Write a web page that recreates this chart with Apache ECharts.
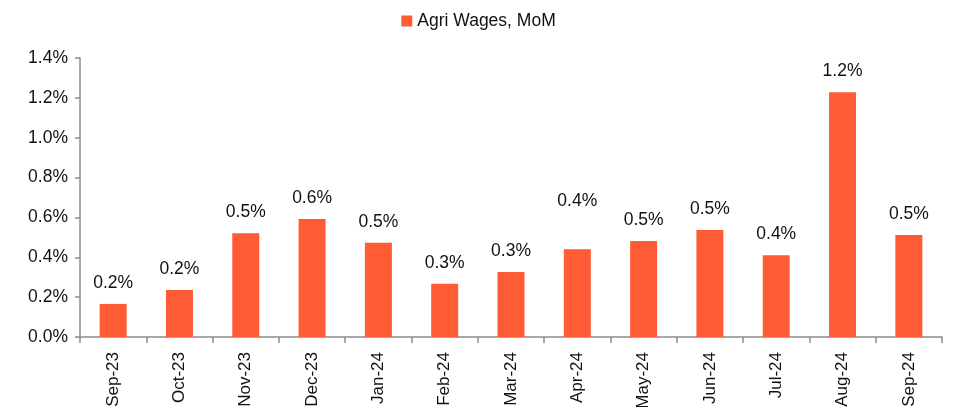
<!DOCTYPE html>
<html>
<head>
<meta charset="utf-8">
<script src="https://cdn.jsdelivr.net/npm/echarts@6/dist/echarts.min.js"></script>
<style>
  html, body { margin: 0; padding: 0; background: #fff; }
  #chart { width: 957px; height: 407px; }
</style>
</head>
<body>
<div id="chart"></div>
<script>
const months = ['Sep-23', 'Oct-23', 'Nov-23', 'Dec-23', 'Jan-24', 'Feb-24', 'Mar-24', 'Apr-24', 'May-24', 'Jun-24', 'Jul-24', 'Aug-24', 'Sep-24']
const agriWagesMoM = [0.166, 0.236, 0.520, 0.592, 0.473, 0.267, 0.326, 0.440, 0.482, 0.537, 0.410, 1.228, 0.512]
const seriesName = 'Agri Wages, MoM'

const FONT = '"Liberation Sans", Arial, sans-serif'
const BAR = '#FF5B35'
const AXIS = '#8c8c8c'

// the Apr-24 label sits higher than the others in the source chart
const lifted = { 'Apr-24': -27 }

const chart = echarts.init(document.getElementById('chart'))
chart.setOption({
  animation: false,
  legend: {
    top: 7,
    left: 'center',
    itemWidth: 11,
    itemHeight: 11,
    itemGap: 4,
    icon: 'rect',
    textStyle: { fontFamily: FONT, fontSize: 17.5, color: '#111' },
    data: [seriesName]
  },
  grid: { left: 80, right: 15, top: 58, bottom: 70, containLabel: false, outerBoundsMode: 'none' },
  xAxis: {
    type: 'category',
    data: months,
    axisLine: { lineStyle: { color: AXIS, width: 1.5 } },
    axisTick: { show: true, length: 6, lineStyle: { color: AXIS, width: 1.5 } },
    axisLabel: {
      rotate: 90,
      margin: 15,
      color: '#111',
      fontFamily: FONT,
      fontSize: 17
    }
  },
  yAxis: {
    type: 'value',
    min: 0,
    max: 1.4,
    interval: 0.2,
    splitLine: { show: false },
    axisLine: { show: true, lineStyle: { color: AXIS, width: 1.5 } },
    axisTick: { show: true, length: 5, lineStyle: { color: AXIS, width: 1.5 } },
    axisLabel: {
      margin: 12,
      color: '#111',
      fontFamily: FONT,
      fontSize: 17.5,
      formatter: (v) => v.toFixed(1) + '%'
    }
  },
  series: [{
    name: seriesName,
    type: 'bar',
    barWidth: 27,
    itemStyle: { color: BAR },
    label: {
      show: true,
      position: 'top',
      distance: 12,
      color: '#111',
      fontFamily: FONT,
      fontSize: 17.5,
      formatter: (p) => p.value.toFixed(1) + '%'
    },
    data: agriWagesMoM.map((v, i) => {
      const up = lifted[months[i]]
      return up ? { value: v, label: { offset: [0, up] } } : v
    })
  }]
})
</script>
</body>
</html>
